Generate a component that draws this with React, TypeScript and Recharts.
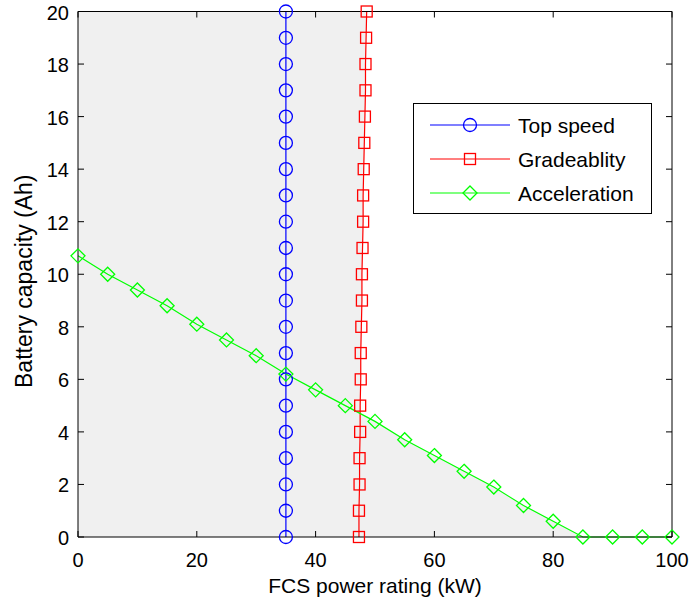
import { ComposedChart, Line, Area, XAxis, YAxis } from "recharts";

// battery capacity levels (Ah) used for the vertical constraint lines
const capacity = [0, 1, 2, 3, 4, 5, 6, 7, 8, 9, 10, 11, 12, 13, 14, 15, 16, 17, 18, 19, 20];
const topSpeedPower = [35, 35, 35, 35, 35, 35, 35, 35, 35, 35, 35, 35, 35, 35, 35, 35, 35, 35, 35, 35, 35];
const gradePower = [
  47.3, 47.3, 47.4, 47.4, 47.5, 47.5, 47.6, 47.6, 47.7, 47.8, 47.8,
  47.9, 48.0, 48.0, 48.1, 48.2, 48.3, 48.4, 48.4, 48.5, 48.6,
];

// acceleration requirement
const accelPower = [0, 5, 10, 15, 20, 25, 30, 35, 40, 45, 50, 55, 60, 65, 70, 75, 80, 85, 90, 95, 100];
const accelCapacity = [10.7, 10.0, 9.4, 8.8, 8.1, 7.5, 6.9, 6.2, 5.6, 5.0, 4.4, 3.7, 3.1, 2.5, 1.9, 1.2, 0.6, 0, 0, 0, 0];

// where gradeability and acceleration cross
const crossPoint = { x: 47.5, y: 4.7 };

const xTicks = [0, 20, 40, 60, 80, 100];
const yTicks = [0, 2, 4, 6, 8, 10, 12, 14, 16, 18, 20];

const FONT = "'Liberation Sans', Arial, sans-serif";
const BLUE = "#0000ff";
const RED = "#ff0000";
const GREEN = "#00ff00";

const topSpeedData = capacity.map((c, i) => ({ x: topSpeedPower[i], y: c }));
const gradeData = capacity.map((c, i) => ({ x: gradePower[i], y: c }));
const accelData = accelPower.map((p, i) => ({ x: p, y: accelCapacity[i] }));

// shaded region: left of gradeability line, or below acceleration line
const shadeData = [
  { x: 0, y: capacity[capacity.length - 1] },
  ...gradeData.filter((d) => d.y >= crossPoint.y).reverse(),
  crossPoint,
  ...accelData.filter((d) => d.x > crossPoint.x),
];

const circleDot = (p: any) => (
  <circle key={`c${p.index}`} cx={p.cx} cy={p.cy} r={6.5} fill="none" stroke={BLUE} strokeWidth={1.3} />
);
const squareDot = (p: any) => (
  <rect key={`s${p.index}`} x={p.cx - 5.5} y={p.cy - 5.5} width={11} height={11} fill="none" stroke={RED} strokeWidth={1.3} />
);
const diamondDot = (p: any) => (
  <path
    key={`d${p.index}`}
    d={`M${p.cx},${p.cy - 7}L${p.cx + 7},${p.cy}L${p.cx},${p.cy + 7}L${p.cx - 7},${p.cy}Z`}
    fill="none"
    stroke={GREEN}
    strokeWidth={1.3}
  />
);

const BottomTick = (p: any) => (
  <g>
    <line x1={p.x} y1={p.y} x2={p.x} y2={p.y - 6} stroke="#000" />
    <text x={p.x} y={p.y + 30} textAnchor="middle" fontSize={20} fontFamily={FONT} fill="#000">
      {p.payload.value}
    </text>
  </g>
);
const LeftTick = (p: any) => (
  <g>
    <line x1={p.x} y1={p.y} x2={p.x + 6} y2={p.y} stroke="#000" />
    <text x={p.x - 9} y={p.y + 8} textAnchor="end" fontSize={20} fontFamily={FONT} fill="#000">
      {p.payload.value}
    </text>
  </g>
);
const TopTick = (p: any) => <line x1={p.x} y1={p.y} x2={p.x} y2={p.y + 6} stroke="#000" />;
const RightTick = (p: any) => <line x1={p.x} y1={p.y} x2={p.x - 6} y2={p.y} stroke="#000" />;

const legendItems = [
  { name: "Top speed", color: BLUE, shape: "circle" },
  { name: "Gradeablity", color: RED, shape: "square" },
  { name: "Acceleration", color: GREEN, shape: "diamond" },
];

const LegendBox = () => (
  <svg width={240} height={112} style={{ display: "block" }}>
    <rect x={0.5} y={0.5} width={238} height={110} fill="#fff" stroke="#000" />
    {legendItems.map((it, i) => {
      const cy = 22 + i * 34;
      return (
        <g key={it.name}>
          <line x1={17} y1={cy} x2={97} y2={cy} stroke={it.color} strokeWidth={1.2} />
          {it.shape === "circle" && <circle cx={57} cy={cy} r={6.5} fill="none" stroke={it.color} strokeWidth={1.3} />}
          {it.shape === "square" && (
            <rect x={51.5} y={cy - 5.5} width={11} height={11} fill="none" stroke={it.color} strokeWidth={1.3} />
          )}
          {it.shape === "diamond" && (
            <path d={`M57,${cy - 7}L64,${cy}L57,${cy + 7}L50,${cy}Z`} fill="none" stroke={it.color} strokeWidth={1.3} />
          )}
          <text x={105} y={cy + 8} fontSize={21} fontFamily={FONT} fill="#000">
            {it.name}
          </text>
        </g>
      );
    })}
  </svg>
);

export default function App() {
  return (
    <div style={{ position: "absolute", left: 0, top: 0, width: 689, height: 601, background: "#fff" }}>
      <ComposedChart width={689} height={601} margin={{ top: 10.5, right: 16, bottom: 0, left: 0 }}>
        <XAxis
          dataKey="x"
          type="number"
          domain={[0, 100]}
          ticks={xTicks}
          height={64}
          tickSize={0}
          tickMargin={0}
          tickLine={false}
          tick={BottomTick}
          axisLine={{ stroke: "#000" }}
          label={{
            content: ({ viewBox }: any) => (
              <text x={viewBox.x + viewBox.width / 2} y={viewBox.y + 56} textAnchor="middle" fontSize={21} fontFamily={FONT}>
                FCS power rating (kW)
              </text>
            ),
          }}
        />
        <XAxis
          xAxisId="top"
          orientation="top"
          dataKey="x"
          type="number"
          domain={[0, 100]}
          ticks={xTicks}
          height={1}
          tickSize={0}
          tickMargin={0}
          tickLine={false}
          tick={TopTick}
          axisLine={{ stroke: "#000" }}
        />
        <YAxis
          type="number"
          domain={[0, 20]}
          ticks={yTicks}
          width={78}
          tickSize={0}
          tickMargin={0}
          tickLine={false}
          tick={LeftTick}
          axisLine={{ stroke: "#000" }}
          label={{
            content: ({ viewBox }: any) => {
              const cx = 32;
              const cy = viewBox.y + viewBox.height / 2 + 7;
              return (
                <text x={cx} y={cy} transform={`rotate(-90, ${cx}, ${cy})`} textAnchor="middle" fontSize={23} fontFamily={FONT}>
                  Battery capacity (Ah)
                </text>
              );
            },
          }}
        />
        <YAxis
          yAxisId="right"
          orientation="right"
          type="number"
          domain={[0, 20]}
          ticks={yTicks}
          width={1}
          tickSize={0}
          tickMargin={0}
          tickLine={false}
          tick={RightTick}
          axisLine={{ stroke: "#000" }}
        />
        <Area
          data={shadeData}
          dataKey="y"
          type="linear"
          fill="#f0f0f0"
          fillOpacity={1}
          stroke="none"
          isAnimationActive={false}
          legendType="none"
        />
        {/* invisible series so the mirrored top/right axes get drawn */}
        <Line
          data={topSpeedData}
          dataKey="y"
          xAxisId="top"
          yAxisId="right"
          stroke="none"
          dot={false}
          activeDot={false}
          legendType="none"
          isAnimationActive={false}
        />
        <Line data={topSpeedData} dataKey="y" name="Top speed" type="linear" stroke={BLUE} strokeWidth={1.2} dot={circleDot} isAnimationActive={false} />
        <Line data={gradeData} dataKey="y" name="Gradeablity" type="linear" stroke={RED} strokeWidth={1.2} dot={squareDot} isAnimationActive={false} />
        <Line data={accelData} dataKey="y" name="Acceleration" type="linear" stroke={GREEN} strokeWidth={1.2} dot={diamondDot} isAnimationActive={false} />
      </ComposedChart>
      <div style={{ position: "absolute", left: 413, top: 103 }}>
        <LegendBox />
      </div>
    </div>
  );
}
